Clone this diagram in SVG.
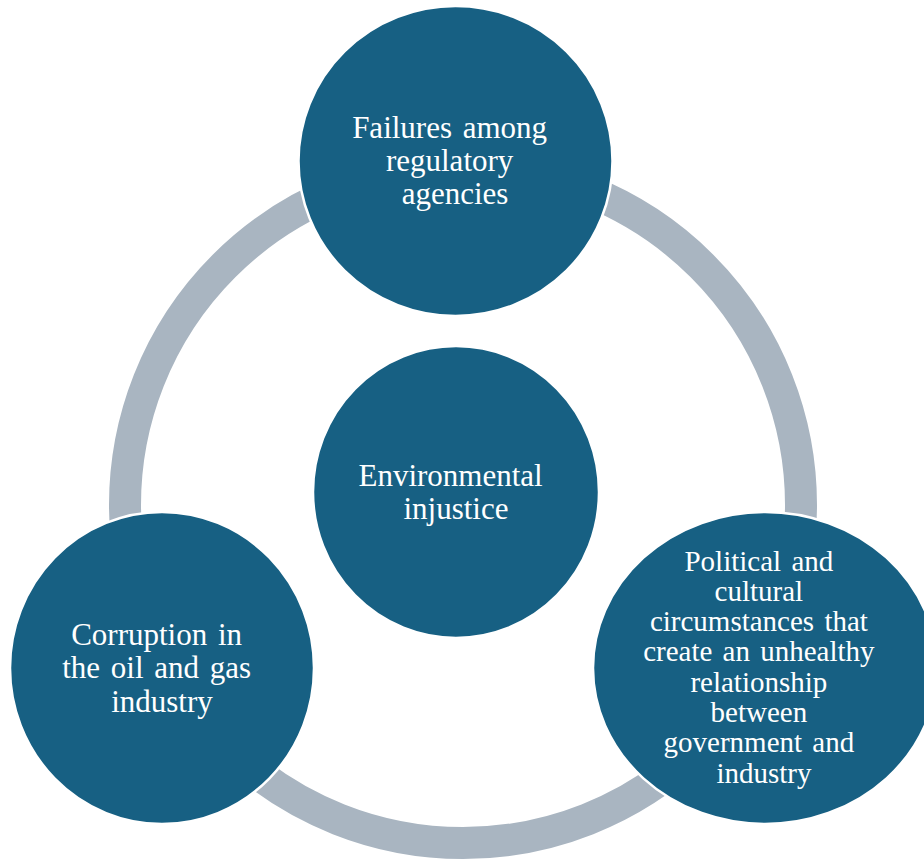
<svg xmlns="http://www.w3.org/2000/svg" width="924" height="861" viewBox="0 0 924 861">
  <style>
    .ring { fill: none; stroke: #a9b5c1; stroke-width: 32; }
    .node { fill: #176083; stroke: #ffffff; stroke-width: 2.5; }
    .label { fill: #ffffff; font-family: "Liberation Serif", "Times New Roman", serif; text-anchor: middle; word-spacing: 3px; }
  </style>
  <rect width="924" height="861" fill="#ffffff"/>

  <!-- cycle ring linking the three outer causes -->
  <g id="connectors">
    <circle class="ring" cx="463" cy="505" r="338"/>
  </g>

  <g id="node-regulatory">
    <ellipse class="node" cx="455.5" cy="161" rx="157" ry="155"/>
    <text class="label" font-size="31">
      <tspan x="455" y="138">Failures among</tspan>
      <tspan x="455" y="171">regulatory</tspan>
      <tspan x="455" y="204">agencies</tspan>
    </text>
  </g>

  <g id="node-center">
    <ellipse class="node" cx="456" cy="492" rx="143" ry="146"/>
    <text class="label" font-size="31">
      <tspan x="456" y="486">Environmental</tspan>
      <tspan x="456" y="519">injustice</tspan>
    </text>
  </g>

  <g id="node-corruption">
    <ellipse class="node" cx="162" cy="668" rx="152" ry="156"/>
    <text class="label" font-size="31">
      <tspan x="162" y="645">Corruption in</tspan>
      <tspan x="162" y="678">the oil and gas</tspan>
      <tspan x="162" y="712">industry</tspan>
    </text>
  </g>

  <g id="node-political">
    <ellipse class="node" cx="765" cy="668" rx="172" ry="156"/>
    <text class="label" font-size="29">
      <tspan x="764" y="571">Political and</tspan>
      <tspan x="764" y="601">cultural</tspan>
      <tspan x="764" y="631">circumstances that</tspan>
      <tspan x="764" y="661">create an unhealthy</tspan>
      <tspan x="764" y="692">relationship</tspan>
      <tspan x="764" y="722">between</tspan>
      <tspan x="764" y="752">government and</tspan>
      <tspan x="764" y="783">industry</tspan>
    </text>
  </g>
</svg>
